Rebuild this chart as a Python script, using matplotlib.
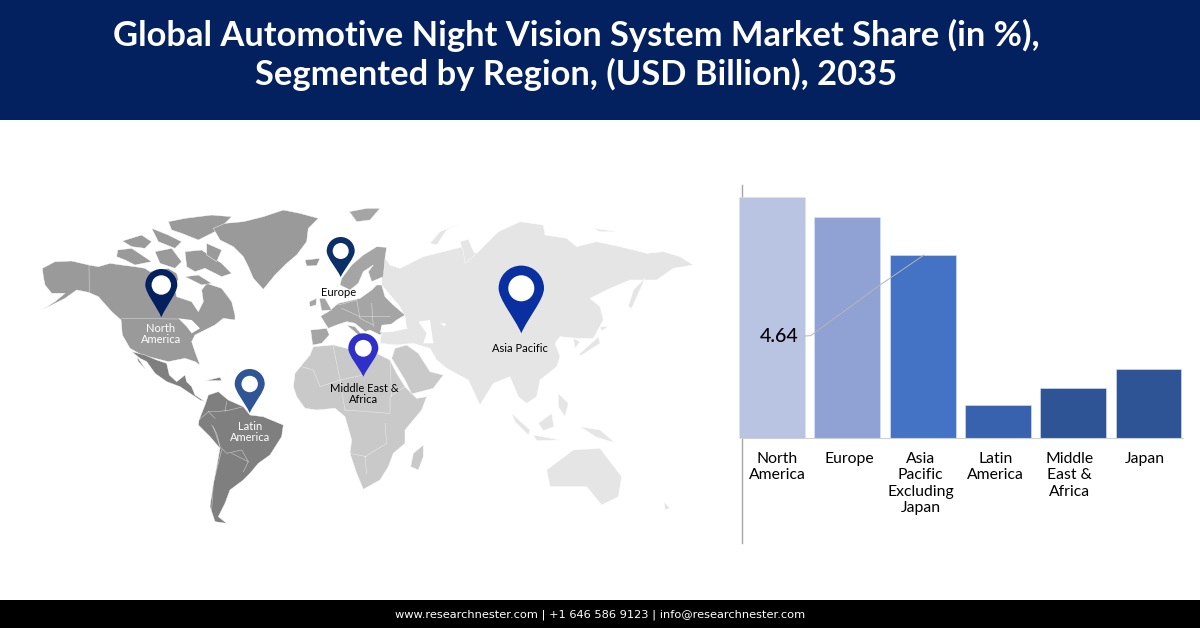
"""
Automotive night vision market share: map with pins on the left, bars on the right
"""
import numpy as np
from matplotlib import pyplot as plt
from matplotlib.patches import Circle, PathPatch, Polygon, Rectangle
from matplotlib.path import Path
from matplotlib.transforms import ScaledTranslation

plt.rcParams["font.family"] = ["Lato", "Open Sans", "DejaVu Sans"]

TITLE = "Global Automotive Night Vision System Market Share (in %),\nSegmented by Region, (USD Billion), 2035"
FOOTER = "www.researchnester.com | +1 646 586 9123 | info@researchnester.com"

categories = ["North\nAmerica", "Europe", "Asia\nPacific\nExcluding\nJapan",
              "Latin\nAmerica", "Middle\nEast &\nAfrica", "Japan"]
values = [4.64, 4.25, 3.52, 0.63, 0.96, 1.32]
bar_colors = ["#b8c4e2", "#8fa2d3", "#4472c4", "#3862ad", "#2f5496", "#2f5496"]
label_shift_px = [5, 2.5, -2, -2, -3.5, -3.5]

# map outlines traced on 3x crops, the tuples are the crop origins
WEST = (30, 200)
EAST = (280, 200)
NAM = (35, 205)
SAM = (130, 340)
EUAF = (290, 240)
ASIA = (380, 210)
C_NA, C_LA, C_EU, C_ME, C_AS = "#9a9a9a", "#7f7f7f", "#a5a5a5", "#c9c9c9", "#e5e5e5"

land = [
    # North America
    (NAM, C_NA, [(22, 190), (60, 170), (110, 168), (162, 180), (190, 185), (225, 175), (260, 180), (300, 185),
                 (330, 190), (345, 200), (400, 190), (425, 205), (430, 222), (420, 250), (425, 275), (470, 290),
                 (490, 320), (505, 290), (500, 255), (515, 235), (560, 250), (590, 290), (600, 330), (600, 345),
                 (565, 340), (540, 360), (510, 375), (480, 390), (470, 410), (480, 440), (495, 480), (480, 470),
                 (450, 460), (400, 470), (360, 460), (320, 450), (285, 430), (262, 390), (258, 345), (230, 320),
                 (190, 275), (160, 262), (125, 255), (90, 280), (50, 300), (20, 315), (60, 290), (90, 265),
                 (50, 265), (30, 240), (25, 215)]),
    (NAM, C_NA, [(248, 135), (290, 130), (320, 150), (350, 170), (300, 180), (270, 165), (245, 155)]),
    (NAM, C_NA, [(262, 108), (320, 90), (350, 110), (330, 130), (290, 125)]),
    (NAM, C_NA, [(350, 70), (400, 90), (440, 110), (420, 130), (370, 110)]),
    (NAM, C_NA, [(360, 140), (410, 130), (440, 170), (420, 190), (375, 175)]),
    (NAM, C_NA, [(400, 50), (450, 40), (530, 30), (590, 35), (550, 75), (490, 105), (440, 85), (410, 75)]),
    (NAM, C_NA, [(450, 140), (500, 135), (560, 175), (590, 205), (560, 215), (510, 190), (480, 200), (455, 185)]),
    (NAM, C_NA, [(450, 215), (490, 210), (530, 235), (500, 240)]),
    (WEST, C_NA, [(530, 130), (575, 150), (560, 185), (530, 165)]),
    # Greenland and Iceland
    (WEST, C_NA, [(550, 85), (585, 70), (640, 65), (700, 50), (760, 30), (810, 40), (865, 55), (835, 85), (830, 125),
                  (800, 165), (770, 190), (735, 225), (700, 268), (670, 235), (655, 200), (640, 170), (610, 140),
                  (570, 120)]),
    (WEST, C_NA, [(825, 180), (870, 175), (860, 197), (830, 198)]),
    # Mexico, Central America, Caribbean
    (SAM, C_LA, [(5, 35), (45, 45), (80, 60), (110, 70), (118, 105), (140, 125), (165, 105), (170, 125), (185, 140),
                 (195, 165), (225, 185), (210, 180), (180, 160), (150, 140), (110, 125), (75, 100), (50, 65),
                 (30, 55)]),
    (SAM, C_LA, [(20, 48), (48, 90), (25, 65)]),
    (SAM, C_LA, [(225, 122), (245, 118), (270, 112), (275, 122), (248, 122)]),
    # South America
    (SAM, C_LA, [(207, 240), (225, 195), (235, 165), (265, 155), (295, 180), (340, 200), (360, 225), (400, 230),
                 (460, 255), (455, 290), (420, 345), (385, 370), (360, 400), (340, 420), (300, 450), (285, 490),
                 (265, 530), (290, 550), (255, 545), (240, 500), (250, 430), (260, 380), (270, 325), (240, 290),
                 (205, 255)]),
    # Asia first, Europe and the Middle East lie over its edge
    (ASIA, C_AS, [(5, 130), (30, 165), (60, 175), (130, 140), (190, 125), (250, 110), (290, 130), (320, 100),
                  (355, 65), (420, 35), (490, 45), (495, 75), (560, 85), (590, 110), (650, 95), (720, 110),
                  (800, 130), (850, 125), (900, 140), (940, 165), (880, 175), (830, 210), (790, 210), (750, 210),
                  (690, 235), (630, 265), (660, 290), (670, 330), (640, 385), (590, 385), (540, 380), (525, 400),
                  (540, 440), (530, 470), (480, 510), (470, 560), (440, 580), (415, 560), (390, 500), (340, 520),
                  (300, 585), (265, 510), (200, 475), (170, 450), (150, 415), (100, 400), (50, 405), (0, 400),
                  (5, 365), (80, 355), (75, 320), (60, 290), (5, 225)]),
    (ASIA, C_AS, [(150, 100), (180, 65), (240, 42), (200, 60), (170, 105)]),
    (ASIA, C_AS, [(240, 95), (265, 88), (285, 135), (255, 160), (250, 125)]),
    (ASIA, C_AS, [(745, 290), (760, 240), (795, 205), (775, 250), (755, 295)]),
    (ASIA, C_AS, [(595, 435), (655, 380), (660, 400), (605, 435)]),
    (ASIA, C_AS, [(660, 350), (685, 350), (665, 362)]),
    (ASIA, C_AS, [(580, 385), (600, 395), (585, 415)]),
    (ASIA, C_AS, [(640, 55), (715, 65), (660, 65)]),
    (EAST, C_AS, [(695, 640), (750, 690), (745, 705), (705, 665)]),
    (EAST, C_AS, [(775, 670), (815, 640), (822, 680), (790, 692)]),
    (EAST, C_AS, [(760, 705), (840, 720), (770, 722)]),
    (EAST, C_AS, [(835, 580), (865, 610), (855, 650), (835, 620)]),
    (EAST, C_AS, [(900, 680), (960, 690), (1005, 728), (950, 712)]),
    (EAST, C_AS, [(800, 810), (880, 750), (960, 745), (1025, 830), (1015, 890), (965, 915), (920, 860), (810, 860)]),
    (EAST, C_AS, [(1152, 905), (1170, 925), (1155, 930)]),
    # Europe
    (EUAF, C_EU, [(150, 135), (155, 115), (185, 75), (220, 45), (260, 20), (290, 22), (285, 55), (280, 110), (245, 125),
                  (235, 95), (250, 75), (220, 95), (205, 130), (180, 150)]),
    (EUAF, C_EU, [(92, 228), (115, 215), (145, 190), (210, 175), (245, 150), (260, 135), (275, 135), (285, 170),
                  (310, 195), (345, 225), (320, 240), (295, 260), (270, 285), (240, 270), (225, 275), (195, 250),
                  (170, 245), (140, 255), (115, 265), (105, 250)]),
    (EUAF, C_EU, [(170, 255), (195, 260), (225, 295), (205, 285)]),
    (EUAF, C_EU, [(62, 270), (110, 265), (118, 285), (95, 310), (68, 315)]),
    (EUAF, C_EU, [(88, 175), (105, 175), (125, 210), (95, 212)]),
    (EUAF, C_EU, [(58, 185), (80, 175), (78, 195), (60, 200)]),
    (EAST, C_EU, [(208, 35), (260, 25), (300, 25), (270, 60), (230, 65)]),
    # Africa and the Middle East
    (EUAF, C_ME, [(10, 440), (15, 400), (35, 375), (60, 345), (70, 320), (130, 315), (170, 325), (260, 340), (300, 360),
                  (320, 400), (345, 440), (380, 475), (410, 470), (395, 510), (345, 570), (345, 610), (310, 640),
                  (295, 680), (270, 720), (220, 748), (200, 700), (180, 640), (185, 600), (165, 530), (135, 505),
                  (80, 510), (45, 505), (20, 470)]),
    (EUAF, C_ME, [(305, 355), (315, 325), (350, 315), (385, 340), (420, 395), (460, 405), (430, 445), (365, 462),
                  (345, 420)]),
    (EUAF, C_ME, [(362, 680), (370, 640), (400, 615), (400, 650), (385, 690)]),
]

# inner seas and thin white borders
seas = [
    (NAM, [(430, 340), (470, 345), (495, 370), (470, 385), (455, 365)]),
    (ASIA, [(115, 335), (150, 330), (160, 400), (130, 400), (140, 370)]),
    (ASIA, [(180, 340), (198, 340), (195, 350)]),
    (ASIA, [(0, 368), (5, 345), (50, 340), (85, 355), (40, 365)]),
]
borders = [
    (NAM, [(258, 340), (430, 342)]),
    (NAM, [(162, 178), (163, 262)]),
    (SAM, [(235, 215), (262, 215), (300, 210), (340, 200)]),
    (SAM, [(207, 240), (235, 215), (255, 235)]),
    (SAM, [(250, 260), (270, 320), (290, 340), (335, 330), (355, 365), (340, 395)]),
    (SAM, [(275, 330), (250, 430), (245, 510)]),
    (SAM, [(305, 340), (355, 365)]),
    (SAM, [(290, 185), (285, 215)]),
    (SAM, [(245, 255), (260, 280), (270, 320)]),
    (EUAF, [(35, 380), (70, 390), (90, 440), (150, 420), (220, 405)]),
    (EUAF, [(130, 320), (150, 420), (165, 510)]),
    (EUAF, [(165, 510), (300, 520), (300, 470), (345, 440)]),
    (EUAF, [(285, 550), (290, 610), (225, 650), (230, 700)]),
    (EUAF, [(230, 650), (180, 640)]),
    (EUAF, [(300, 360), (305, 470)]),
    (EUAF, [(145, 195), (200, 180)]),
    (EUAF, [(200, 180), (210, 235), (250, 255)]),
    (EUAF, [(245, 190), (250, 260)]),
    (EUAF, [(155, 205), (210, 230), (300, 230)]),
]

# colour, pin x, circle y, radius, tip y, hole radius
pins = [
    ("#04205f", 161.3, 285.0, 16.0, 317.3, 9.7),
    ("#0b2f66", 340.7, 251.0, 14.0, 277.0, 8.0),
    ("#2f5597", 249.7, 384.0, 15.0, 413.0, 8.2),
    ("#3030c8", 363.3, 348.3, 15.0, 376.7, 8.4),
    ("#0a2fa0", 521.3, 288.3, 22.7, 333.3, 13.0),
]
map_labels = [
    ("North\nAmerica", 161, 334, "white"),
    ("Europe", 339, 293, "black"),
    ("Latin\nAmerica", 250, 432, "white"),
    ("Middle East &\nAfrica", 364, 394, "black"),
    ("Asia Pacific", 520, 349, "black"),
]


def from_crop(origin, pts):
    """crop coordinates to image pixels"""
    pts = np.array(pts, dtype=float)
    return pts / 3 + np.array(origin)


def add_pin(ax, color, x, y, r, tip, hole):
    """Teardrop map marker with a white hole"""
    k = 0.5523 * r
    verts = [(x, tip), (x - r * 0.3, tip - (tip - y) * 0.35), (x - r, y + k * 0.9), (x - r, y),
             (x - r, y - k), (x - k, y - r), (x, y - r),
             (x + k, y - r), (x + r, y - k), (x + r, y),
             (x + r, y + k * 0.9), (x + r * 0.3, tip - (tip - y) * 0.35), (x, tip), (x, tip)]
    codes = [Path.MOVETO] + [Path.CURVE4] * 12 + [Path.CLOSEPOLY]
    ax.add_patch(PathPatch(Path(verts, codes), facecolor=color, edgecolor="none", zorder=5))
    ax.add_patch(Circle((x, y), hole, facecolor="white", edgecolor="none", zorder=6))


fig = plt.figure(figsize=(12, 6.28), dpi=100)

# full figure layer in image pixels
bg = fig.add_axes([0, 0, 1, 1])
bg.set_xlim(0, 1200)
bg.set_ylim(628, 0)
bg.axis("off")

bg.add_patch(Rectangle((0, 0), 1200, 120, facecolor="#03205f", edgecolor="none"))
bg.add_patch(Rectangle((0, 600), 1200, 28, facecolor="black", edgecolor="none"))
bg.text(576.5, 54.5, TITLE, color="white", fontsize=24.85, fontweight="bold", ha="center", va="center",
        linespacing=1.22)
bg.text(600, 614.5, FOOTER, color="white", fontsize=8.2, family="DejaVu Sans", ha="center", va="center")

for origin, color, pts in land:
    bg.add_patch(Polygon(from_crop(origin, pts), closed=True, facecolor=color, edgecolor="white",
                         linewidth=0.3, zorder=2))
for origin, pts in seas:
    bg.add_patch(Polygon(from_crop(origin, pts), closed=True, facecolor="white", edgecolor="none", zorder=3))
for origin, pts in borders:
    xy = from_crop(origin, pts)
    bg.plot(xy[:, 0], xy[:, 1], color="white", linewidth=0.4, alpha=0.6, zorder=3)

for pin in pins:
    add_pin(bg, *pin)
for label, x, y, color in map_labels:
    bg.text(x, y, label, color=color, fontsize=8, ha="center", va="center", linespacing=1.0, zorder=7)

# bar chart, placed so the left spine is the long thin vertical line
ax = fig.add_axes([741.5 / 1200, (628 - 543) / 628, 441 / 1200, 358 / 628])
ax.patch.set_alpha(0)
x_pos = np.arange(len(values))
ax.bar(x_pos, values, width=0.875, color=bar_colors, edgecolor="#dfe4f0", linewidth=0.4, zorder=3, clip_on=False)
ax.set_xlim(-0.405, 5.452)
ax.set_ylim(-2.03, 4.87)

for side in ["top", "right"]:
    ax.spines[side].set_visible(False)
ax.spines["left"].set_color("#a6a6a6")
ax.spines["left"].set_linewidth(1)
ax.spines["bottom"].set_position(("data", 0))
ax.spines["bottom"].set_color("#d0d0d0")
ax.spines["bottom"].set_zorder(4)
ax.set_yticks([])
ax.set_xticks(x_pos)
ax.set_xticklabels(categories, fontsize=11.3, color="black", linespacing=1.2)
ax.tick_params(axis="x", length=0, pad=10.5)
for tick_label, dx in zip(ax.get_xticklabels(), label_shift_px):
    tick_label.set_transform(tick_label.get_transform() + ScaledTranslation(dx / 100, 0, fig.dpi_scale_trans))

# value label with its leader line
ax.text(0.09, values[0] * 0.42, f"{values[0]:.2f}", fontsize=14, fontweight="medium", color="black",
        ha="center", va="center", zorder=6)
leader = from_crop((720, 170), [(255, 498), (272, 497), (480, 345), (612, 255)])
fig.add_artist(plt.Line2D(leader[:, 0] / 1200, 1 - leader[:, 1] / 628, color="#b5b5b5", linewidth=0.7))

plt.savefig("out.png", dpi=100)
